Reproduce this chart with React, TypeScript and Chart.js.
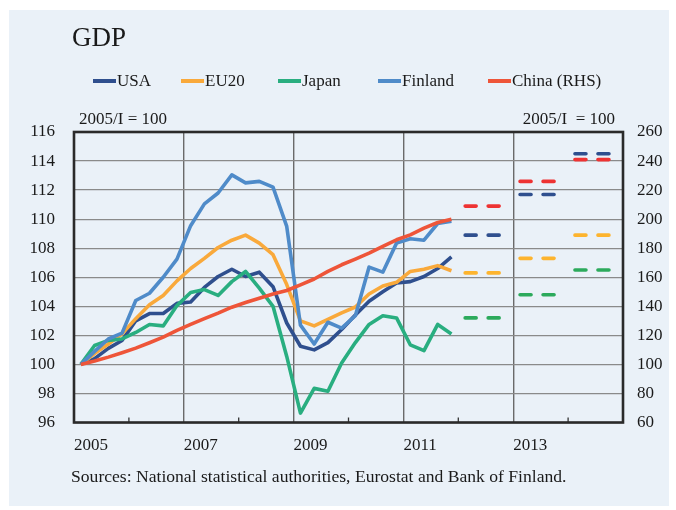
import React, { useEffect, useRef } from 'react';
import { Chart, registerables } from 'chart.js';

Chart.register(...registerables);

// ---- data ----
const years = ['2005', '2006', '2007', '2008', '2009', '2010', '2011', '2012', '2013', '2014'];
const quarters = ['Q1', 'Q2', 'Q3', 'Q4'];
const labels = years.flatMap((y) => quarters.map((q) => `${y} ${q}`));
const labelledYears = ['2005', '2007', '2009', '2011', '2013'];

const usa = [100, 100.4, 101.1, 101.65, 103.0, 103.5, 103.5, 104.2, 104.3, 105.3, 106.05, 106.55, 106.05, 106.35, 105.35, 102.85, 101.25, 101.0, 101.5, 102.4, 103.4, 104.35, 105.0, 105.6, 105.7, 106.05, 106.6, 107.4];
const eu20 = [100, 100.75, 101.4, 102.1, 103.15, 104.1, 104.75, 105.75, 106.6, 107.3, 108.05, 108.55, 108.9, 108.35, 107.55, 105.5, 103.0, 102.65, 103.1, 103.55, 103.95, 104.85, 105.4, 105.65, 106.4, 106.55, 106.8, 106.45];
const japan = [100, 101.3, 101.65, 101.75, 102.2, 102.75, 102.65, 104.05, 104.95, 105.15, 104.75, 105.7, 106.4, 105.25, 104.0, 100.55, 96.65, 98.35, 98.15, 100.1, 101.5, 102.75, 103.35, 103.2, 101.35, 100.95, 102.75, 102.1];
const finland = [100, 100.9, 101.75, 102.15, 104.4, 104.9, 106.0, 107.25, 109.55, 111.05, 111.8, 113.05, 112.5, 112.6, 112.2, 109.5, 102.7, 101.4, 102.9, 102.5, 103.35, 106.7, 106.35, 108.35, 108.65, 108.55, 109.7, 109.85];
const china = [100, 102.3, 105.0, 108.0, 111.2, 114.9, 118.8, 123.4, 127.5, 131.5, 135.3, 139.4, 142.6, 145.6, 148.4, 150.9, 154.8, 158.8, 164.0, 168.6, 172.5, 176.6, 181.2, 185.8, 189.2, 193.8, 197.7, 200.0];

const forecastYears = ['2012', '2013', '2014'];
const usaForecast = [108.9, 111.7, 114.5];
const eu20Forecast = [106.3, 107.3, 108.9];
const japanForecast = [103.2, 104.8, 106.5];
const chinaForecast = [209, 226, 241];

const leftMin = 96, leftMax = 116, leftStep = 2;
const rightMin = 60, rightMax = 260, rightStep = 20;

// ---- styles ----
const C = {
  usa: '#2F4F8E',
  eu20: '#F9A93B',
  japan: '#29AE80',
  finland: '#4F8BC9',
  china: '#EE5539',
  fUsa: '#2F4F8E',
  fEu20: '#FDB42E',
  fJapan: '#2CAA5C',
  fChina: '#EE3333',
};
const FONT = 'Liberation Serif, Times New Roman, serif';

const legendItems = [
  { name: 'USA', color: C.usa, left: 84 },
  { name: 'EU20', color: C.eu20, left: 172 },
  { name: 'Japan', color: C.japan, left: 269 },
  { name: 'Finland', color: C.finland, left: 369 },
  { name: 'China (RHS)', color: C.china, left: 479 },
];

function forecastSets(values: number[], color: string, axis: string) {
  return forecastYears.map((fy, k) => ({
    label: `forecast ${fy}`,
    data: labels.map((l) => (l.startsWith(fy) ? values[k] : null)),
    borderColor: color,
    borderWidth: 3.6,
    borderDash: [11, 12],
    borderCapStyle: 'round' as const,
    pointRadius: 0,
    yAxisID: axis,
    order: 0,
    spanGaps: false,
  }));
}

const decor = {
  id: 'decor',
  afterDraw(chart: any) {
    const { ctx, chartArea: a, scales } = chart;
    const x = scales.x;
    ctx.save();
    ctx.strokeStyle = '#333';
    ctx.lineWidth = 1.3;
    labels.forEach((l, i) => {
      if (i > 0 && i % 4 === 0 && i % 8 !== 0) {
        const px = (x.getPixelForValue(i - 1) + x.getPixelForValue(i)) / 2;
        ctx.beginPath();
        ctx.moveTo(px, a.bottom);
        ctx.lineTo(px, a.bottom - 5);
        ctx.stroke();
      }
    });
    ctx.lineWidth = 2.6;
    ctx.strokeStyle = '#2a2a2a';
    ctx.strokeRect(a.left, a.top, a.right - a.left, a.bottom - a.top);
    ctx.restore();
  },
};

function line(label: string, data: number[], color: string, axis: string, order: number) {
  return {
    label,
    data,
    borderColor: color,
    backgroundColor: color,
    borderWidth: 3.6,
    pointRadius: 0,
    tension: 0,
    borderJoinStyle: 'round' as const,
    yAxisID: axis,
    order,
  };
}

export default function App() {
  const ref = useRef<HTMLCanvasElement | null>(null);

  useEffect(() => {
    if (!ref.current) return;
    const tickFont = { family: FONT, size: 17 };
    const chart = new Chart(ref.current, {
      type: 'line',
      data: {
        labels,
        datasets: [
          line('USA', usa, C.usa, 'y', 5),
          line('EU20', eu20, C.eu20, 'y', 4),
          line('Japan', japan, C.japan, 'y', 3),
          line('Finland', finland, C.finland, 'y', 2),
          line('China (RHS)', china, C.china, 'y1', 1),
          ...forecastSets(chinaForecast, C.fChina, 'y1'),
          ...forecastSets(usaForecast, C.fUsa, 'y'),
          ...forecastSets(eu20Forecast, C.fEu20, 'y'),
          ...forecastSets(japanForecast, C.fJapan, 'y'),
        ] as any,
      },
      options: {
        animation: false,
        responsive: false,
        maintainAspectRatio: false,
        events: [],
        layout: { padding: { top: 122, left: 0, right: 0, bottom: 53.5 } },
        plugins: {
          legend: { display: false },
          title: { display: false },
          tooltip: { enabled: false },
        },
        scales: {
          x: {
            type: 'category',
            offset: true,
            grid: {
              offset: true,
              drawTicks: false,
              lineWidth: 1.4,
              color: (ctx: any) =>
                ctx.index > 0 && ctx.index < labels.length && ctx.index % 8 === 0 ? '#6a6a6a' : 'rgba(0,0,0,0)',
            },
            border: { display: false },
            ticks: {
              autoSkip: false,
              maxRotation: 0,
              minRotation: 0,
              align: 'start',
              labelOffset: -6.86,
              padding: 13,
              color: '#1a1a1a',
              font: tickFont,
              callback: (_v: any, idx: number) => {
                const y = labels[idx].slice(0, 4);
                return idx % 4 === 0 && labelledYears.includes(y) ? y : '';
              },
            },
            afterFit: (s: any) => {
              s.height = 30;
            },
          },
          y: {
            position: 'left',
            min: leftMin,
            max: leftMax,
            ticks: { stepSize: leftStep, padding: 19, color: '#1a1a1a', font: tickFont },
            grid: { color: '#8a8a8a', lineWidth: 1.3, drawTicks: false },
            border: { display: false },
            afterFit: (s: any) => {
              s.width = 65;
            },
          },
          y1: {
            position: 'right',
            min: rightMin,
            max: rightMax,
            ticks: { stepSize: rightStep, padding: 14, color: '#1a1a1a', font: tickFont },
            grid: { display: false, drawTicks: false },
            border: { display: false },
            afterFit: (s: any) => {
              s.width = 46;
            },
          },
        },
      } as any,
      plugins: [decor],
    });
    return () => chart.destroy();
  }, []);

  const text: React.CSSProperties = {
    position: 'absolute',
    fontFamily: FONT,
    color: '#1a1a1a',
    lineHeight: 1,
    whiteSpace: 'pre',
    margin: 0,
  };

  return (
    <div
      style={{
        position: 'absolute',
        left: 9,
        top: 10,
        width: 660,
        height: 496,
        background: '#EAF1F8',
      }}
    >
      <canvas ref={ref} width={660} height={496} style={{ position: 'absolute', left: 0, top: 0, width: 660, height: 496 }} />
      <div style={{ ...text, left: 63, top: 14, fontSize: 27 }}>GDP</div>
      {legendItems.map((it) => (
        <div key={it.name} style={{ position: 'absolute', left: it.left, top: 62, height: 18 }}>
          <div style={{ position: 'absolute', left: 0, top: 7, width: 23, height: 4, background: it.color }} />
          <div style={{ ...text, left: 24, top: 0, fontSize: 17 }}>{it.name}</div>
        </div>
      ))}
      <div style={{ ...text, left: 70, top: 100, fontSize: 17 }}>2005/I = 100</div>
      <div style={{ ...text, right: 54, top: 100, fontSize: 17 }}>2005/I  = 100</div>
      <div style={{ ...text, left: 62, top: 458, fontSize: 17.6 }}>
        Sources: National statistical authorities, Eurostat and Bank of Finland.
      </div>
    </div>
  );
}
